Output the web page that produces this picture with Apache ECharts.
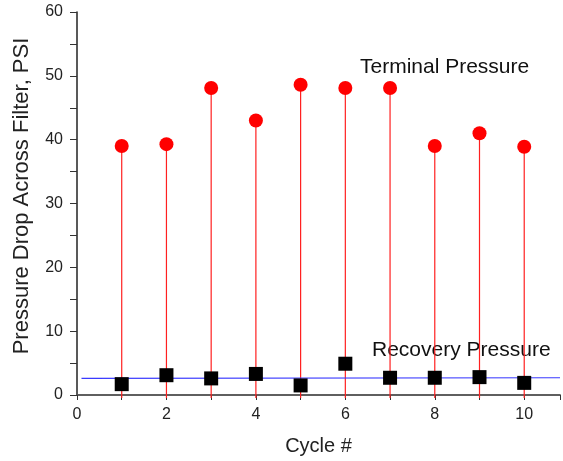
<!DOCTYPE html>
<html>
<head>
<meta charset="utf-8">
<script src="https://cdn.jsdelivr.net/npm/echarts@6/dist/echarts.min.js"></script>
<style>
  html, body { margin: 0; padding: 0; background: #fff; }
  #chart { width: 563px; height: 461px; }
</style>
</head>
<body>
<div id="chart"></div>
<script>
// data
var cycles = [1, 2, 3, 4, 5, 6, 7, 8, 9, 10];
var terminal = [39, 39.3, 48.1, 43, 48.6, 48.1, 48.1, 39, 41, 38.9];
var recovery = [1.7, 3.1, 2.6, 3.3, 1.5, 4.9, 2.7, 2.7, 2.8, 1.9];
var fitX = [0.1, 10.8];
var fitY = [2.6, 2.7];

var FONT = 'Liberation Sans, Arial, sans-serif';

function pairs(xs, ys) {
  return xs.map(function (x, i) { return [x, ys[i]]; });
}

var chart = echarts.init(document.getElementById('chart'));
chart.setOption({
  animation: false,
  backgroundColor: '#fff',
  grid: { left: 77, right: 0, top: 12, bottom: 62 },
  xAxis: [{
    type: 'value',
    min: 0, max: 10.8, interval: 1,
    name: 'Cycle #',
    nameLocation: 'middle',
    nameGap: 41,
    nameTextStyle: { fontFamily: FONT, fontSize: 20, color: '#222' },
    axisLine: { onZero: false, lineStyle: { color: '#555', width: 1.5 } },
    axisTick: { show: true, length: 5, lineStyle: { color: '#333' } },
    axisLabel: {
      fontFamily: FONT, fontSize: 16, color: '#222', margin: 12,
      formatter: function (v) { return v % 2 === 0 ? String(v) : ''; }
    },
    splitLine: { show: false }
  }, {
    type: 'value', position: 'top',
    min: 0, max: 10.8,
    axisLine: { show: true, lineStyle: { color: '#555', width: 1.5 } },
    axisTick: { show: false }, axisLabel: { show: false }, splitLine: { show: false }
  }],
  yAxis: {
    type: 'value',
    min: 0, max: 60, interval: 10,
    axisLine: { show: true, lineStyle: { color: '#222', width: 1.5 } },
    axisTick: { show: true, length: 7, lineStyle: { color: '#333' } },
    minorTick: { show: true, splitNumber: 2, length: 7, lineStyle: { color: '#333' } },
    axisLabel: { fontFamily: FONT, fontSize: 16, color: '#222', margin: 14 },
    splitLine: { show: false }
  },
  series: [
    {
      // red stems from 0 up to each terminal point
      type: 'custom',
      data: pairs(cycles, terminal),
      renderItem: function (params, api) {
        var top = api.coord([api.value(0), api.value(1)]);
        var bot = api.coord([api.value(0), 0]);
        return {
          type: 'line',
          shape: { x1: top[0], y1: top[1], x2: bot[0], y2: bot[1] + 3 },
          style: { stroke: '#ff2020', lineWidth: 1.2 }
        };
      },
      z: 1
    },
    {
      type: 'line',
      data: pairs(fitX, fitY),
      symbol: 'none',
      lineStyle: { color: '#3a3aff', width: 1.2 },
      z: 2
    },
    {
      type: 'scatter',
      data: pairs(cycles, terminal),
      symbol: 'circle',
      symbolSize: 14,
      itemStyle: { color: '#ff0000', opacity: 1 },
      z: 3
    },
    {
      type: 'scatter',
      data: pairs(cycles, recovery),
      symbol: 'rect',
      symbolSize: 14,
      itemStyle: { color: '#000', opacity: 1 },
      z: 3
    }
  ],
  graphic: [
    {
      type: 'text', x: 22, y: 196, rotation: Math.PI / 2,
      style: {
        text: 'Pressure Drop Across Filter, PSI', font: '22px ' + FONT, fill: '#222',
        align: 'center', verticalAlign: 'middle'
      }
    },
    {
      type: 'text', left: 360, top: 57,
      style: { text: 'Terminal Pressure', font: '21px ' + FONT, fill: '#111' }
    },
    {
      type: 'text', left: 372, top: 340,
      style: { text: 'Recovery Pressure', font: '21px ' + FONT, fill: '#111' }
    }
  ]
});
</script>
</body>
</html>
